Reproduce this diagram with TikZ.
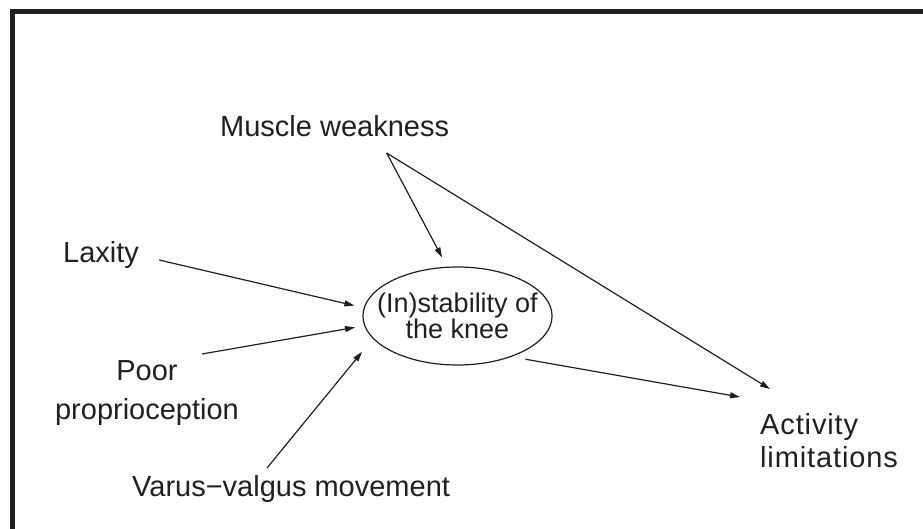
\documentclass[tikz,border=0pt]{standalone}
\usepackage{fontspec}
\setmainfont{Liberation Sans}
\newfontfamily\spacedfont[LetterSpace=3]{Liberation Sans}
\usepackage{xcolor}
\usepackage{tikz}
\usetikzlibrary{shapes.geometric, arrows.meta, positioning}
\definecolor{inkblack}{RGB}{35,31,32}

\begin{document}
\begin{tikzpicture}[
        x=1pt, y=-1pt,
        % Styles
        factor/.style={inner sep=0pt, text=inkblack, align=center, font=\fontsize{29}{39}\selectfont},
        outcome/.style={inner sep=0pt, text=inkblack, align=left, font=\spacedfont\fontsize{29}{33}\selectfont},
        centre/.style={ellipse, draw=inkblack, line width=1.2pt, text=inkblack, inner xsep=-13.4pt, inner ysep=0pt,
                      minimum width=189pt, minimum height=98pt, align=center, font=\fontsize{27}{23}\selectfont},
        arrow/.style={-{Triangle[length=10pt, width=6pt]}, line width=1.2pt, inkblack},
    ]
    \useasboundingbox (0,0) rectangle (923,529);

    % Frame (top and left edges only)
    \draw[line width=5pt, inkblack] (12,529) -- (12,12) -- (923,12);

    % Central node
    \node[centre] (knee) at (457.5,316) {(In)stability of\\the knee};

    % Factors
    \node[factor, anchor=base west] (muscle) at (220,137) {Muscle weakness};
    \node[factor, anchor=base west] (laxity) at (63,262) {Laxity};
    \node[factor, anchor=north] (poor) at (147,360) {Poor\\proprioception};
    \node[factor, anchor=north west] (varus) at (132,475) {Varus−valgus movement};

    % Outcome
    \node[outcome, anchor=north west] (activity) at (760,413) {Activity\\limitations};

    % Split point below muscle weakness
    \coordinate (split) at ([xshift=52pt, yshift=-16pt]muscle.base);

    % Arrows into the knee
    \draw[arrow, shorten >=9.5pt] ([shift={(20,-2)}]laxity.base east) -- (knee.175.2);
    \draw[arrow, shorten >=9.3pt] ([shift={(55,-6)}]poor.north) -- (knee.186.5);
    \draw[arrow, shorten >=17pt] ([shift={(135,-7)}]varus.north west) -- (knee.195.7);
    \draw[arrow, shorten >=10.5pt] (split) -- (knee.102.3);

    % Arrows to activity limitations
    \draw[arrow] (split) -- ([shift={(10,-24)}]activity.north west);
    \draw[arrow, shorten <=14pt] (knee.-37.3) -- ([shift={(-20,-16)}]activity.north west);

\end{tikzpicture}
\end{document}
